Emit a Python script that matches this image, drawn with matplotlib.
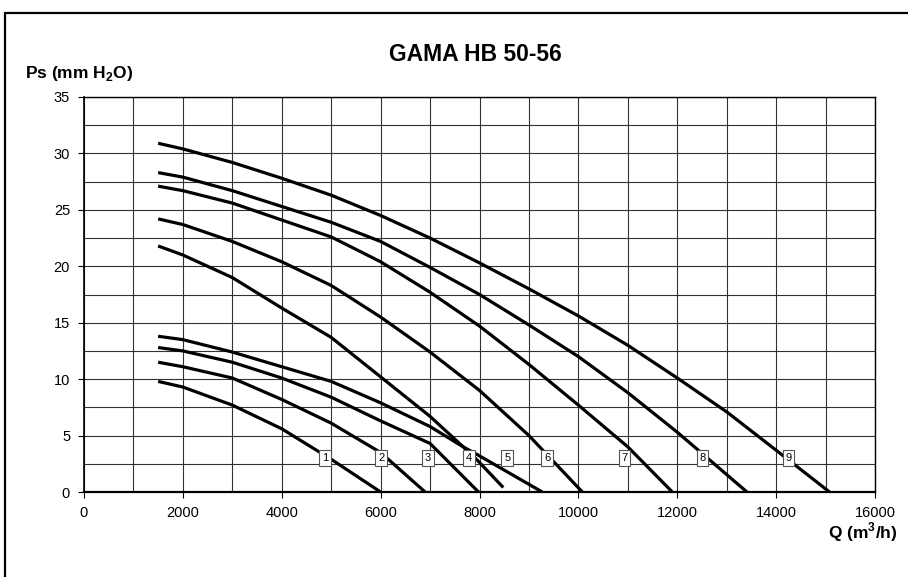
import matplotlib
matplotlib.use('Agg')
import matplotlib.pyplot as plt
from matplotlib.patches import Rectangle

plt.rcParams['font.family'] = ['Liberation Sans', 'DejaVu Sans']

# Кривые вентилятора: расход Q (м3/ч) и статическое давление Ps (мм вод. ст.)
q1 = [1500, 2000, 3000, 4000, 5000, 6000]
p1 = [9.8, 9.3, 7.7, 5.6, 2.9, 0.0]

q2 = [1500, 2000, 3000, 4000, 5000, 6000, 6900]
p2 = [11.5, 11.1, 10.1, 8.2, 6.1, 3.5, 0.0]

q3 = [1500, 2000, 3000, 4000, 5000, 6000, 7000, 7980]
p3 = [12.8, 12.5, 11.5, 10.1, 8.4, 6.3, 4.3, 0.0]

q4 = [1500, 2000, 3000, 4000, 5000, 6000, 7000, 7670, 7960, 8480]
p4 = [21.8, 21.0, 19.0, 16.3, 13.7, 10.2, 6.7, 4.0, 2.8, 0.4]

q5 = [1500, 2000, 3000, 4000, 5000, 6000, 7000, 7670, 7960, 9270]
p5 = [13.8, 13.5, 12.4, 11.1, 9.8, 7.9, 5.8, 4.0, 3.3, 0.0]

q6 = [1500, 2000, 3000, 4000, 5000, 6000, 7000, 8000, 9000, 10080]
p6 = [24.2, 23.7, 22.2, 20.4, 18.3, 15.5, 12.4, 9.0, 5.0, 0.0]

q7 = [1500, 2000, 3000, 4000, 5000, 6000, 7000, 8000, 9000, 10000, 11000, 11900]
p7 = [27.1, 26.7, 25.6, 24.1, 22.6, 20.4, 17.7, 14.7, 11.3, 7.7, 4.0, 0.0]

q8 = [1500, 2000, 3000, 4000, 5000, 6000, 7000, 8000, 9000, 10000, 11000, 12000, 13410]
p8 = [28.3, 27.9, 26.7, 25.3, 23.9, 22.2, 19.9, 17.5, 14.8, 12.0, 8.8, 5.3, 0.0]

q9 = [1500, 2000, 3000, 4000, 5000, 6000, 7000, 8000, 9000, 10000, 11000, 12000, 13000, 14000, 15080]
p9 = [30.9, 30.4, 29.2, 27.8, 26.3, 24.5, 22.5, 20.3, 18.0, 15.6, 13.0, 10.1, 7.1, 3.7, 0.0]

# Номера кривых и их положение на графике
curve_names = ['1', '2', '3', '4', '5', '6', '7', '8', '9']
label_q = [4880, 6010, 6960, 7790, 8560, 9370, 10930, 12510, 14250]
label_p = 3.0

x_ticks = [0, 2000, 4000, 6000, 8000, 10000, 12000, 14000, 16000]
y_ticks = [0, 5, 10, 15, 20, 25, 30, 35]


def visualizer():
    fig = plt.figure(figsize=(9.08, 5.77), dpi=100)
    ax = fig.add_axes([0.0925, 0.1473, 0.8712, 0.6846])

    curves = [(q1, p1), (q2, p2), (q3, p3), (q4, p4), (q5, p5),
              (q6, p6), (q7, p7), (q8, p8), (q9, p9)]
    for q, p in curves:
        ax.plot(q, p, color='black', lw=2.3, solid_capstyle='butt', zorder=3)

    # Подписи кривых в рамках
    for name, q in zip(curve_names, label_q):
        ax.text(q, label_p, name, fontsize=8, ha='center', va='center', zorder=4,
                bbox=dict(boxstyle='square,pad=0.25', fc='white', ec='#555555', lw=0.8))

    ax.set_xlim(0, 16000)
    ax.set_ylim(0, 35)
    ax.set_xticks(x_ticks)
    ax.set_yticks(y_ticks)
    ax.set_xticks(range(1000, 16000, 2000), minor=True)
    ax.set_yticks([2.5 + 5 * i for i in range(7)], minor=True)
    ax.tick_params(which='major', direction='out', length=4, width=0.8, labelsize=10.5, pad=6)
    ax.tick_params(which='minor', length=0)
    ax.grid(which='both', color='#333333', lw=0.8)
    ax.set_axisbelow(True)
    for s in ax.spines.values():
        s.set_linewidth(1.0)
    ax.spines['bottom'].set_linewidth(1.6)
    ax.spines['left'].set_linewidth(1.2)

    fig.text(0.523, 0.905, 'GAMA HB 50-56', fontsize=16.5, fontweight='bold',
             ha='center', va='center')
    fig.text(0.027, 0.872, 'Ps (mm H$_\\mathregular{2}$O)', fontsize=12.5, fontweight='bold',
             ha='left', va='center')
    fig.text(0.988, 0.077, 'Q (m$^\\mathregular{3}$/h)', fontsize=12.5, fontweight='bold',
             ha='right', va='center')

    # Рамка вокруг всей диаграммы
    fig.patches.append(Rectangle((4.5 / 908, -0.1), 1.2, 1.1 - 12.5 / 577, fill=False,
                                 ec='black', lw=1.6, transform=fig.transFigure))

    fig.savefig('out.png', dpi=100)


if __name__ == '__main__':
    visualizer()
